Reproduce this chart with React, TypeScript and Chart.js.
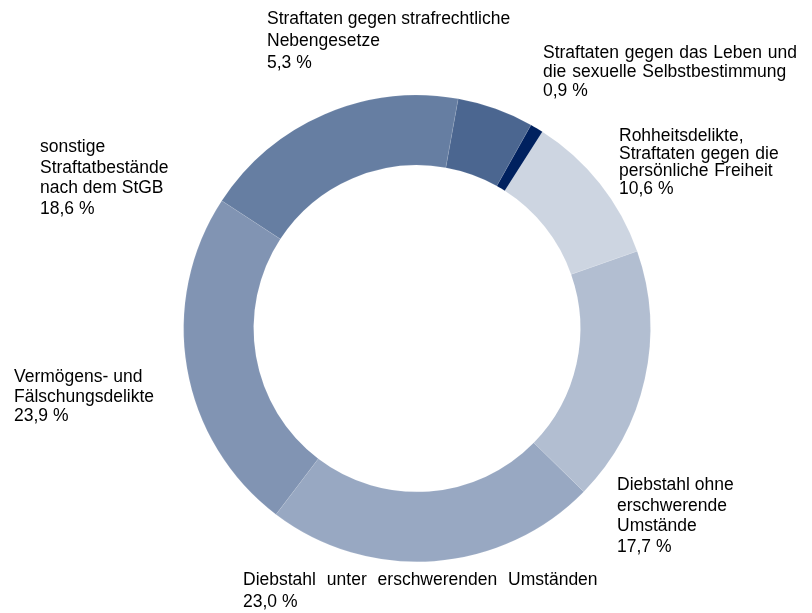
import React, { useEffect, useRef } from "react";
import { Chart, registerables } from "chart.js";

Chart.register(...registerables);

const categories = [
  "Rohheitsdelikte, Straftaten gegen die persönliche Freiheit",
  "Diebstahl ohne erschwerende Umstände",
  "Diebstahl unter erschwerenden Umständen",
  "Vermögens- und Fälschungsdelikte",
  "sonstige Straftatbestände nach dem StGB",
  "Straftaten gegen strafrechtliche Nebengesetze",
  "Straftaten gegen das Leben und die sexuelle Selbstbestimmung",
];

const values = [10.6, 17.7, 23.0, 23.9, 18.6, 5.3, 0.9];

const labelLines = [
  ["Rohheitsdelikte,", "Straftaten gegen die", "persönliche Freiheit"],
  ["Diebstahl ohne", "erschwerende", "Umstände"],
  ["Diebstahl unter erschwerenden Umständen"],
  ["Vermögens- und", "Fälschungsdelikte"],
  ["sonstige", "Straftatbestände", "nach dem StGB"],
  ["Straftaten gegen strafrechtliche", "Nebengesetze"],
  ["Straftaten gegen das Leben und", "die sexuelle Selbstbestimmung"],
];

const colors = ["#CDD5E1", "#B2BED1", "#98A8C2", "#8194B3", "#667EA2", "#4B6690", "#00215F"];

// label layout: left x, first baseline y, line height, extra word spacing
const labelLayout = [
  { x: 619, y: 141, lh: 17.5, ws: 1 },
  { x: 617, y: 490, lh: 20.7, ws: 0 },
  { x: 243, y: 585, lh: 22, ws: 6 },
  { x: 14, y: 382, lh: 19.5, ws: 0 },
  { x: 40, y: 152, lh: 20.5, ws: 0 },
  { x: 267, y: 24, lh: 22, ws: 0 },
  { x: 543, y: 58, lh: 19, ws: 1 },
];

const fmt = (v: number) => v.toFixed(1).replace(".", ",") + " %";

const labelPlugin = {
  id: "sliceLabels",
  afterDraw(chart: any) {
    const ctx = chart.ctx;
    ctx.save();
    ctx.fillStyle = "#000000";
    ctx.font = '17.5px "Liberation Sans", Arial, sans-serif';
    ctx.textAlign = "left";
    ctx.textBaseline = "alphabetic";
    labelLines.forEach((lines, i) => {
      const lay = labelLayout[i];
      (ctx as any).wordSpacing = lay.ws + "px";
      lines.forEach((t, j) => {
        ctx.fillText(t, lay.x, lay.y + j * lay.lh);
      });
      (ctx as any).wordSpacing = "0px";
      ctx.fillText(fmt(values[i]), lay.x, lay.y + lines.length * lay.lh);
    });
    ctx.restore();
  },
};

export default function App() {
  const ref = useRef<HTMLCanvasElement | null>(null);
  useEffect(() => {
    if (!ref.current) return;
    const chart = new Chart(ref.current, {
      type: "doughnut",
      data: {
        labels: categories,
        datasets: [
          {
            data: values,
            backgroundColor: colors,
            borderColor: "rgba(255,255,255,0.35)",
            borderWidth: 0.3,
            hoverOffset: 0,
          },
        ],
      },
      options: {
        animation: false,
        responsive: false,
        rotation: 32.5,
        cutout: "70%",
        layout: { padding: { top: 95, bottom: 51, left: 22, right: 0 } },
        plugins: {
          legend: { display: false },
          tooltip: { enabled: false },
        },
      },
      plugins: [labelPlugin],
    });
    return () => chart.destroy();
  }, []);
  return (
    <div style={{ position: "fixed", left: 0, top: 0, width: 812, height: 613, background: "#fff" }}>
      <canvas ref={ref} width={812} height={613} style={{ width: 812, height: 613, display: "block" }} />
    </div>
  );
}
